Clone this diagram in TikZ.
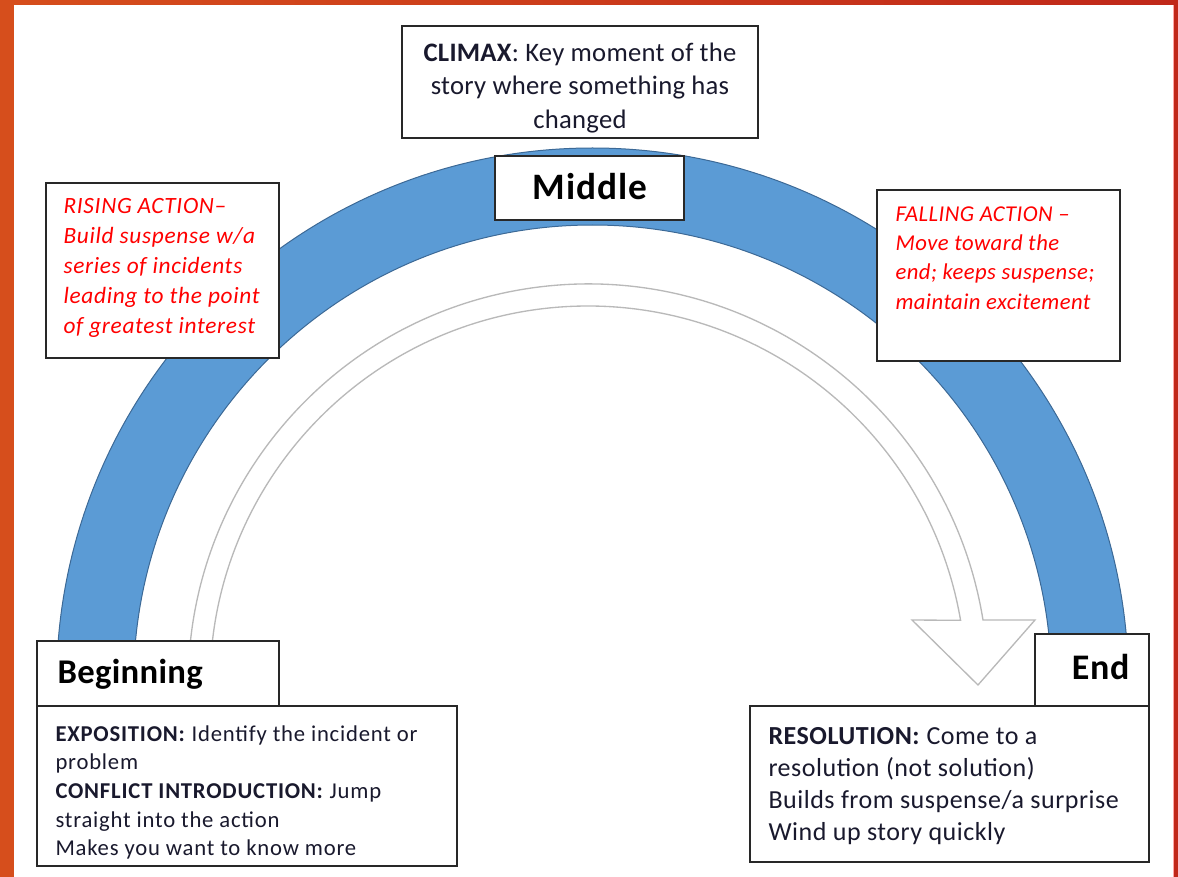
\documentclass[tikz,border=0pt]{standalone}
\usepackage{fontspec}
\setmainfont{Carlito}
\usetikzlibrary{positioning}

\definecolor{arcblue}{RGB}{91,155,213}
\definecolor{arcedge}{RGB}{60,105,150}
\definecolor{frameorange}{RGB}{214,78,28}
\definecolor{framered}{RGB}{192,40,26}
\definecolor{arrowgray}{RGB}{185,185,185}
\definecolor{boxline}{RGB}{40,40,40}
\definecolor{txtdark}{RGB}{25,25,45}

\tikzset{every picture/.style={line width=0.75pt}}
\tikzset{
  box/.style={draw=boxline, line width=1.5pt, fill=white},
  redtxt/.style={text=red, font=\itshape\fontsize{17.5}{22.5}\selectfont\addfontfeatures{LetterSpace=3}, align=left, inner sep=0pt},
  desctxt/.style={text=txtdark, align=left, inner sep=0pt},
  parttxt/.style={text=black, inner sep=0pt},
}

\begin{document}
\begin{tikzpicture}[x=0.75pt,y=0.75pt,yscale=-1,xscale=1]
	\useasboundingbox (0,0) rectangle (1178,877);
	
	%Shape: Frame
	\fill[frameorange] (0,0) rectangle (14,877);
	\shade[left color=frameorange, right color=framered] (0,0) rectangle (1178,5);
	\fill[framered] (1174,0) rectangle (1178,877);
	\draw[red!35] (1173.5,5) -- (1173.5,877);
	
	%Shape: Block Arc
	\filldraw[fill=arcblue, draw=arcedge] (56.5,684) arc (180:360:536) -- (1051.5,684) arc (360:180:459) -- cycle;
	
	%Shape: Curved Arrow
	\filldraw[fill=white, draw=arrowgray, line width=1pt] (210,684) arc (180:350.3:378) -- (912,620) -- (978,685) -- (1035,620) -- (983,620) arc (350.8:180:400) -- cycle;
	
	%Shape: Rectangle
	\draw[box] (402,26) rectangle (758,138);
	%Shape: Rectangle
	\draw[box] (495,156) rectangle (684,220);
	%Shape: Rectangle
	\draw[box] (46,183) rectangle (279,358);
	%Shape: Rectangle
	\draw[box] (877,190) rectangle (1120,361);
	%Shape: Rectangle
	\draw[box] (37,641) rectangle (279,706);
	%Shape: Rectangle
	\draw[box] (37,706) rectangle (457,866);
	%Shape: Rectangle
	\draw[box] (1035,634) rectangle (1149,706);
	%Shape: Rectangle
	\draw[box] (750,706) rectangle (1149,862);
	
	% Text Node
	\node[text=txtdark, font=\fontsize{20}{25}\selectfont\addfontfeatures{LetterSpace=1}, align=center] (climax) at (580,88) {\textbf{CLIMAX}: Key moment of the\\story where something has\\changed};
	% Text Node
	\node[parttxt, font=\bfseries\fontsize{28}{32}\selectfont\addfontfeatures{LetterSpace=3}] (middle) at (590,187) {Middle};
	% Text Node
	\node[parttxt, font=\bfseries\fontsize{26}{30}\selectfont\addfontfeatures{LetterSpace=1}, anchor=west] (beginning) at (57,674) {Beginning};
	% Text Node
	\node[parttxt, font=\bfseries\fontsize{27}{30}\selectfont\addfontfeatures{LetterSpace=2}, anchor=east] (end) at (1130,667) {End};
	% Text Node
	\node[redtxt, anchor=north west] (rising) at (63,198) {RISING ACTION--\\Build suspense w/a\\series of incidents\\leading to the point\\of greatest interest};
	% Text Node
	\node[redtxt, font=\itshape\fontsize{17}{22}\selectfont\addfontfeatures{LetterSpace=2}, anchor=north west] (falling) at (895,206) {FALLING ACTION --\\Move toward the\\end; keeps suspense;\\maintain excitement};
	% Text Node
	\node[desctxt, font=\fontsize{17}{21.5}\selectfont\addfontfeatures{LetterSpace=3.5}, anchor=north west] (exposition) at (55,725) {\textbf{EXPOSITION:} Identify the incident or\\problem\\\textbf{CONFLICT INTRODUCTION:} Jump\\straight into the action\\Makes you want to know more};
	% Text Node
	\node[desctxt, font=\fontsize{19.5}{24}\selectfont\addfontfeatures{LetterSpace=2}, anchor=north west] (resolution) at (768,727) {\textbf{RESOLUTION:} Come to a\\resolution (not solution)\\Builds from suspense/a surprise\\Wind up story quickly};
	
\end{tikzpicture}
\end{document}
